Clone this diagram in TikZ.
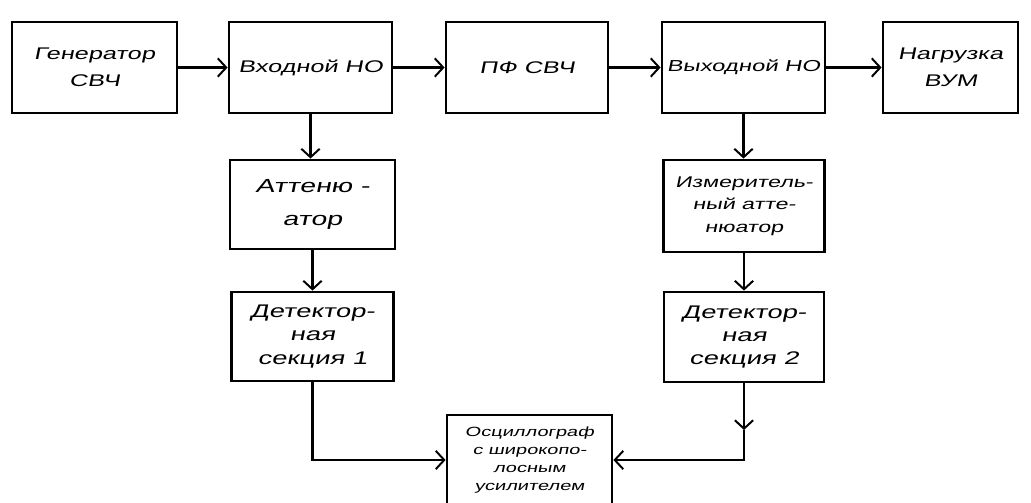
\documentclass[tikz,border=0pt]{standalone}
\usepackage{fontspec}
\usepackage{tikz}
\usetikzlibrary{arrows.meta}
\newfontfamily\hand[FakeStretch=1.5,FakeSlant=0.2]{Liberation Sans}
\tikzset{blk/.style={draw,line width=2pt,align=center,inner sep=1pt,font=\hand\fontsize{12}{19}\selectfont},
  arr/.style={line width=2pt,-{Straight Barb[length=6pt,width=13pt,line width=1.4pt]}}}

\begin{document}
\begin{tikzpicture}[x=0.025cm,y=-0.025cm]
\useasboundingbox (0,0) rectangle (1031,502);
\node[blk,minimum width=4.125cm,minimum height=2.275cm] (gen) at (94.5,67.5) {Генератор\\СВЧ};
\node[blk,minimum width=4.075cm,minimum height=2.275cm] (vin) at (310.5,67.5) {Входной НО};
\node[blk,minimum width=4.05cm,minimum height=2.275cm] (pf) at (527,67.5) {ПФ СВЧ};
\node[blk,minimum width=4.075cm,minimum height=2.275cm,font=\hand\fontsize{11.3}{19}\selectfont] (vout) at (743.5,67.5) {Выходной НО};
\node[blk,minimum width=3.375cm,minimum height=2.275cm] (load) at (950.5,67.5) {Нагрузка\\ВУМ};
\node[blk,minimum width=4.125cm,minimum height=2.225cm,font=\hand\fontsize{13.5}{23}\selectfont] (att) at (312.5,204.5) {Аттеню -\\атор};
\node[blk,minimum width=4.05cm,minimum height=2.225cm,font=\hand\fontsize{13}{16.5}\selectfont] (det1) at (312.5,336.5) {Детектор-\\ная\\секция 1};
\node[blk,minimum width=4.025cm,minimum height=2.3cm,font=\hand\fontsize{11}{16}\selectfont] (izm) at (744,206) {Измеритель-\\ный атте-\\нюатор};
\node[blk,minimum width=4cm,minimum height=2.25cm,font=\hand\fontsize{13}{16.5}\selectfont] (det2) at (744,337) {Детектор-\\ная\\секция 2};
\node[blk,minimum width=4.125cm,minimum height=2.25cm,font=\hand\fontsize{9.5}{13}\selectfont] (osc) at (529.5,460) {Осциллограф\\с широкопо-\\лосным\\усилителем};
\coordinate (k) at (744,430);
\draw[arr] (gen) -- (vin);
\draw[arr] (vin) -- (pf);
\draw[arr] (pf) -- (vout);
\draw[arr] (vout) -- (load);
\draw[arr] (vin.south) -- (vin.south |- att.north);
\draw[arr] (att) -- (det1);
\draw[arr] (vout.south) -- (vout.south |- izm.north);
\draw[arr] (izm) -- (det2);
\draw[arr] (det1.south) |- (osc.west);
\draw[arr] (det2.south) -- (k);
\draw[arr] (k) |- (osc.east);
\end{tikzpicture}
\end{document}
